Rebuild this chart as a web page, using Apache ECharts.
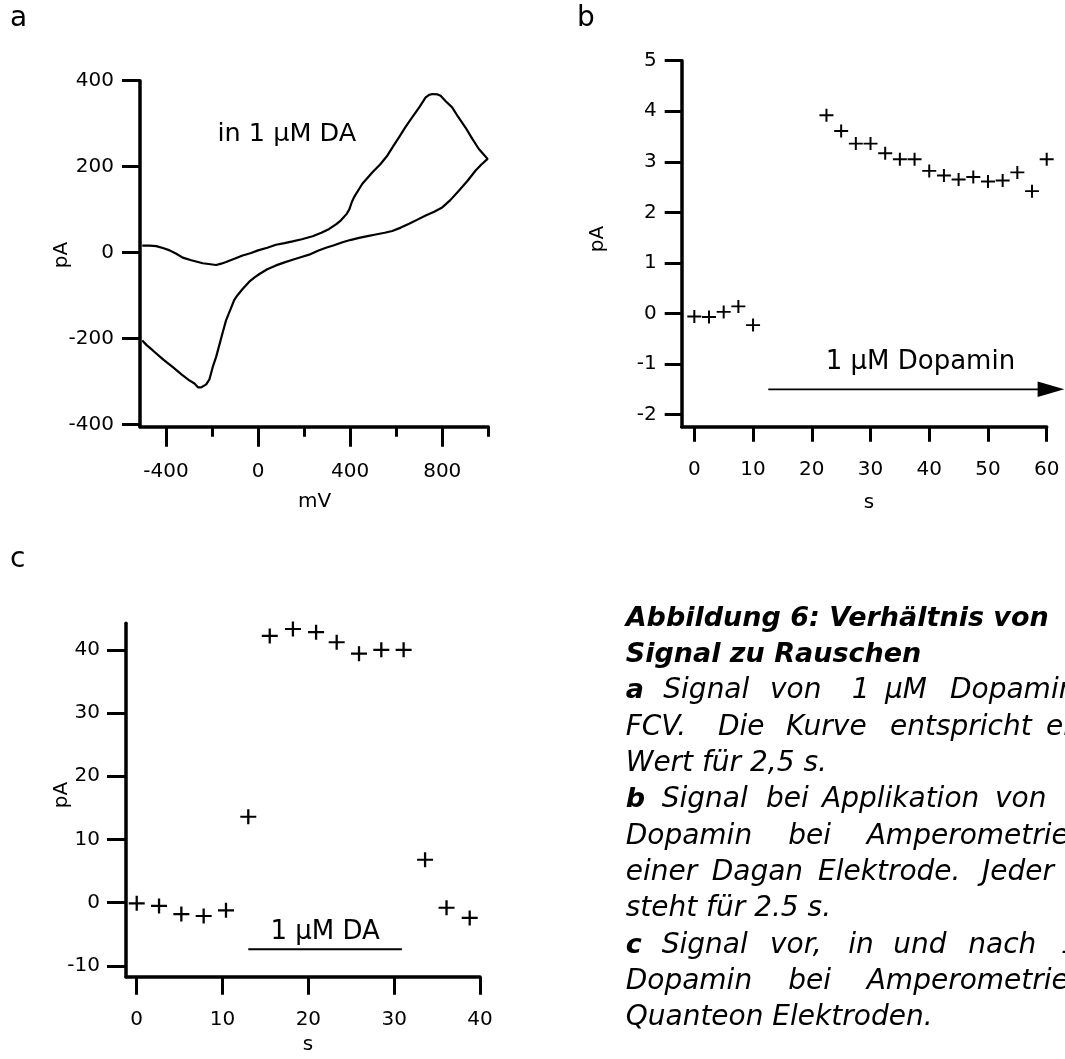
<!DOCTYPE html>
<html>
<head>
<meta charset="utf-8">
<script src="https://cdn.jsdelivr.net/npm/echarts@6.0.0/dist/echarts.min.js"></script>
<style>
html,body{margin:0;padding:0;background:#fff;}
#chart{width:1065px;height:1059px;}
</style>
</head>
<body>
<div id="chart"></div>
<script>
// ================= DATA =================
// Panel a: fast-scan cyclic voltammogram in 1 µM DA (upper branch -> then lower branch)
const cvPotentialMv = [
  -503,-470,-442,-410,-384,-355,-327,-290,-240,-182,-160,-139,-100,-67,-30,0,40,78,115,150,190,237,275,309,340,360,
  385,396,407,417,453,497,530,562,590,612,640,670,700,728,743,757,780,793,815,843,870,901,930,959,980,997,
  970,945,910,872,835,800,765,728,690,656,620,583,550,511,475,439,400,367,330,295,260,222,185,150,115,78,40,6,
  -15,-38,-67,-90,-103,-118,-139,-153,-168,-182,-197,-211,-225,-247,-260,-276,-300,-330,-370,-410,-457,-485,-503
];
const cvCurrentPa = [
  16,16,15,10,5,-3,-12,-18,-25,-29,-26,-22,-14,-7,-1,5,11,18,22,26,31,38,46,55,66,75,
  90,100,117,129,160,187,205,226,250,268,292,315,338,361,367,369,368,365,352,338,315,291,265,241,228,218,
  205,191,167,144,122,105,95,86,76,67,58,50,46,42,38,34,29,24,17,11,4,-5,-11,-17,-23,-30,-39,-50,
  -58,-68,-85,-100,-110,-130,-158,-185,-215,-243,-267,-295,-307,-314,-314,-305,-297,-285,-267,-250,-228,-215,-205
];
// Panel b: amperometry, Dagan electrode (one point per 2.5 s)
const bTimeS = [0,2.5,5,7.5,10,22.5,25,27.5,30,32.5,35,37.5,40,42.5,45,47.5,50,52.5,55,57.5,60];
const bCurrentPa = [-0.06,-0.07,0.03,0.14,-0.23,3.92,3.61,3.36,3.36,3.17,3.05,3.05,2.82,2.73,2.65,2.70,2.61,2.63,2.79,2.42,3.05];
// Panel c: amperometry, Quanteon electrodes
const cTimeS = [0,2.6,5.2,7.8,10.4,13.0,15.5,18.2,20.9,23.3,25.9,28.5,31.1,33.6,36.1,38.8];
const cCurrentPa = [-0.1,-0.5,-1.8,-2.1,-1.2,13.6,42.2,43.3,42.8,41.2,39.4,40.0,40.0,6.8,-0.8,-2.4];
// Tick values
const aXTicks = [-400,0,400,800];
const aXMinorTicks = [-200,200,600,1000];
const aYTicks = [-400,-200,0,200,400];
const bXTicks = [0,10,20,30,40,50,60];
const bYTicks = [-2,-1,0,1,2,3,4,5];
const cXTicks = [0,10,20,30,40];
const cYTicks = [-10,0,10,20,30,40];
// Annotations (data coordinates)
const aNoteText = 'in 1 µM DA';
const aNoteAt = [125, 276];
const bNoteText = '1 µM Dopamin';
const bNoteAt = [38.5, -0.96];
const bArrowFrom = [12.6, -1.5];
const bArrowTo = [63, -1.5];
const cNoteText = '1 µM DA';
const cNoteAt = [21.95, -4.7];
const cBarFrom = [13.0, -7.36];
const cBarTo = [30.9, -7.36];

// ================= LAYOUT / STYLE =================
const FONT = 'DejaVu Sans';
const BLACK = '#000';
const PLUS = 'path://M6,0H8V6H14V8H8V14H6V8H0V6H6Z';

function zip(xs, ys){ return xs.map((x,i)=>[x, ys[i]]); }

function axis(o){
  return {
    type:'value', gridIndex:o.grid, min:o.min, max:o.max, position:o.position,
    axisLine:{show:o.line!==false, onZero:false, lineStyle:{color:BLACK, width:3.5}},
    axisTick:{show:true, customValues:o.ticks, length:o.tickLen, lineStyle:{color:BLACK, width:3}},
    axisLabel:{show:o.labels!==false, customValues:o.ticks, margin:o.margin, fontSize:20, color:BLACK, fontFamily:FONT},
    splitLine:{show:false}, minorTick:{show:false}
  };
}

const chart = echarts.init(document.getElementById('chart'), null, {renderer:'canvas'});

const option = {
  animation:false,
  backgroundColor:'#fff',
  textStyle:{fontFamily:FONT, color:BLACK},
  grid:[
    {left:140, top:80.7, width:348.3, height:346, outerBoundsMode:'none', containLabel:false},
    {left:681.7, top:60.7, width:365, height:366, outerBoundsMode:'none', containLabel:false},
    {left:126, top:623.3, width:354, height:353.4, outerBoundsMode:'none', containLabel:false}
  ],
  xAxis:[
    axis({grid:0, min:-512.7, max:1000, position:'bottom', ticks:aXTicks, tickLen:20, margin:35}),
    axis({grid:0, min:-512.7, max:1000, position:'bottom', ticks:aXMinorTicks, tickLen:10, margin:35, line:false, labels:false}),
    axis({grid:1, min:-2.15, max:60, position:'bottom', ticks:bXTicks, tickLen:15, margin:33}),
    axis({grid:2, min:-1.25, max:40, position:'bottom', ticks:cXTicks, tickLen:18, margin:33})
  ],
  yAxis:[
    axis({grid:0, min:-405.5, max:400, position:'left', ticks:aYTicks, tickLen:18, margin:26}),
    axis({grid:1, min:-2.24, max:5, position:'left', ticks:bYTicks, tickLen:17, margin:25}),
    axis({grid:2, min:-11.7, max:44.2, position:'left', ticks:cYTicks, tickLen:19, margin:26})
  ],
  series:[
    {type:'line', xAxisIndex:0, yAxisIndex:0, data:zip(cvPotentialMv, cvCurrentPa),
     showSymbol:false, symbol:'none', smooth:false, lineStyle:{color:BLACK, width:2.2}, silent:true},
    {type:'scatter', xAxisIndex:2, yAxisIndex:1, data:zip(bTimeS, bCurrentPa),
     symbol:PLUS, symbolSize:[14,13], itemStyle:{color:BLACK, opacity:1}, silent:true},
    {type:'scatter', xAxisIndex:3, yAxisIndex:2, data:zip(cTimeS, cCurrentPa),
     symbol:PLUS, symbolSize:[16,15], itemStyle:{color:BLACK, opacity:1}, silent:true}
  ]
};
chart.setOption(option);

// ---------- annotations positioned through the axes' scales ----------
const toPx = (xi, yi, p) => chart.convertToPixel({xAxisIndex:xi, yAxisIndex:yi}, p);

function txt(x, y, text, o){
  o = o || {};
  return {
    type:'text', x:x, y:y, rotation:o.rotation||0, silent:true,
    style:{text:text, fill:BLACK, fontSize:o.size||20, fontFamily:FONT,
      fontStyle:o.italic?'italic':'normal', fontWeight:o.bold?'bold':'normal',
      align:o.align||'center', verticalAlign:o.valign||'middle',
      textAlign:o.align||'center', textVerticalAlign:o.valign||'middle'}
  };
}
// baseline helper: middle of DejaVu em-box ≈ 0.35em above baseline
function base(x, baseline, text, o){ return txt(x, baseline - 0.35*(o.size||20), text, o); }

const g = [];
// panel letters
g.push(base(10, 29, 'a', {size:28, align:'left'}));
g.push(base(577, 29, 'b', {size:28, align:'left'}));
g.push(base(10, 570, 'c', {size:28, align:'left'}));

// axis names
g.push(txt(314.5, 502, 'mV'));
g.push(txt(62, 255, 'pA', {rotation:Math.PI/2}));
g.push(txt(869, 503, 's'));
g.push(txt(598, 239, 'pA', {rotation:Math.PI/2}));
g.push(txt(308, 1045, 's'));
g.push(txt(62, 795, 'pA', {rotation:Math.PI/2}));

// panel a note
const pa = toPx(0, 0, aNoteAt);
g.push(txt(pa[0], pa[1], aNoteText, {size:25.5}));

// panel b arrow and note
const pb = toPx(2, 1, bNoteAt);
g.push(txt(pb[0], pb[1], bNoteText, {size:26}));
const a1 = toPx(2, 1, bArrowFrom), a2 = toPx(2, 1, bArrowTo);
const headLen = 26.7, headHalf = 7.8;
g.push({type:'line', silent:true, shape:{x1:a1[0], y1:a1[1], x2:a2[0]-headLen+2, y2:a2[1]},
        style:{stroke:BLACK, lineWidth:1.7}});
g.push({type:'polygon', silent:true,
        shape:{points:[[a2[0]-headLen, a2[1]-headHalf],[a2[0], a2[1]],[a2[0]-headLen, a2[1]+headHalf]]},
        style:{fill:BLACK}});

// panel c bar and note
const c1 = toPx(3, 2, cBarFrom), c2 = toPx(3, 2, cBarTo);
g.push({type:'line', silent:true, shape:{x1:c1[0], y1:c1[1], x2:c2[0], y2:c2[1]},
        style:{stroke:BLACK, lineWidth:1.8}});
const pc = toPx(3, 2, cNoteAt);
g.push(txt(pc[0], pc[1], cNoteText, {size:26}));

// caption (justified block, clipped by the right edge like the original)
const captionLines = [
  {y:628,    words:[[625.7,'Abbildung 6: Verhältnis von',1]]},
  {y:664.4,  words:[[625.7,'Signal zu Rauschen',1]]},
  {y:700.7,  words:[[625.7,'a',1],[663.3,'Signal'],[770,'von'],[851.7,'1'],[885,'µM'],[950,'Dopamin']]},
  {y:737.1,  words:[[625.7,'FCV.'],[718,'Die'],[786,'Kurve'],[890,'entspricht'],[1046,'einem']]},
  {y:773.4,  words:[[625.7,'Wert für 2,5 s.']]},
  {y:809.8,  words:[[625.7,'b',1],[661.7,'Signal'],[766,'bei'],[822,'Applikation'],[995,'von']]},
  {y:846.2,  words:[[625.7,'Dopamin'],[788.3,'bei'],[866.7,'Amperometrie']]},
  {y:882.5,  words:[[625.7,'einer'],[711.7,'Dagan'],[818,'Elektrode.'],[982,'Jeder']]},
  {y:918.9,  words:[[625.7,'steht für 2.5 s.']]},
  {y:955.3,  words:[[625.7,'c',1],[661.7,'Signal'],[770,'vor,'],[848.3,'in'],[893.3,'und'],[968.3,'nach'],[1061,'1']]},
  {y:991.6,  words:[[625.7,'Dopamin'],[788.3,'bei'],[866.7,'Amperometrie']]},
  {y:1028,   words:[[625.7,'Quanteon Elektroden.']]}
];
captionLines.forEach(line => {
  line.words.forEach(w => {
    const bold = !!w[2];
    g.push(base(w[0], line.y, w[1], {size: bold ? 27 : 28, italic:true, bold:bold, align:'left'}));
  });
});

chart.setOption({graphic:{elements:g}});
</script>
</body>
</html>
